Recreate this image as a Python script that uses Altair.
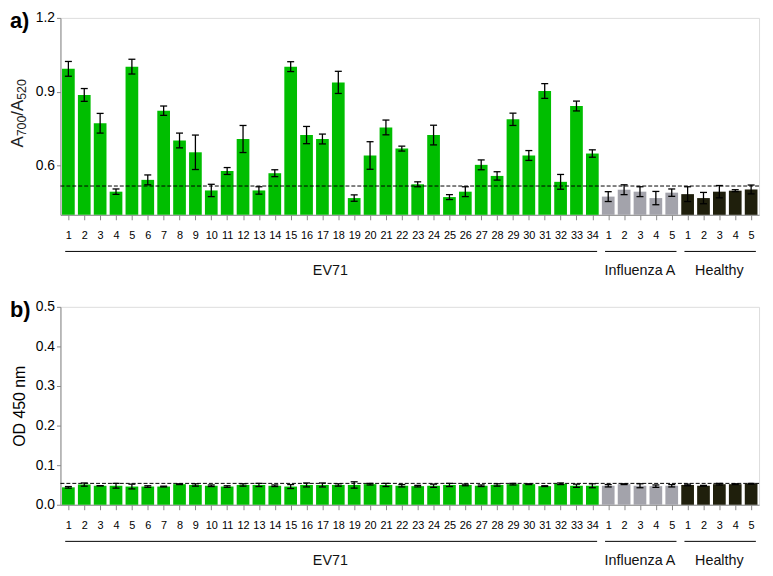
import json
import altair as alt
import pandas as pd

# ---------------- data ----------------
ev71_labels = [str(i) for i in range(1, 35)]
flu_labels = ["1", "2", "3", "4", "5"]
healthy_labels = ["1", "2", "3", "4", "5"]

# panel a: A700/A520
ev71_a = [0.993, 0.887, 0.772, 0.494, 1.002, 0.542, 0.823, 0.702, 0.654, 0.499,
          0.578, 0.708, 0.499, 0.569, 1.002, 0.724, 0.708, 0.938, 0.468, 0.641,
          0.755, 0.669, 0.524, 0.724, 0.472, 0.494, 0.603, 0.558, 0.788, 0.641,
          0.903, 0.534, 0.842, 0.649]
ev71_a_err = [0.030, 0.026, 0.040, 0.011, 0.030, 0.020, 0.019, 0.030, 0.070, 0.025,
              0.014, 0.055, 0.015, 0.014, 0.020, 0.035, 0.020, 0.045, 0.013, 0.056,
              0.030, 0.010, 0.010, 0.040, 0.010, 0.020, 0.020, 0.017, 0.025, 0.020,
              0.030, 0.030, 0.020, 0.015]
flu_a = [0.474, 0.502, 0.494, 0.468, 0.490]
flu_a_err = [0.020, 0.020, 0.020, 0.027, 0.015]
healthy_a = [0.484, 0.468, 0.494, 0.498, 0.503]
healthy_a_err = [0.030, 0.023, 0.025, 0.004, 0.018]
cutoff_a = 0.517

# panel b: OD 450 nm
ev71_b = [0.044, 0.051, 0.048, 0.048, 0.046, 0.046, 0.046, 0.052, 0.050, 0.048,
          0.046, 0.050, 0.050, 0.048, 0.046, 0.050, 0.050, 0.050, 0.050, 0.052,
          0.050, 0.048, 0.047, 0.048, 0.050, 0.050, 0.048, 0.050, 0.052, 0.052,
          0.047, 0.053, 0.048, 0.048]
ev71_b_err = [0.002, 0.004, 0.000, 0.006, 0.006, 0.002, 0.001, 0.001, 0.003, 0.002,
              0.002, 0.003, 0.004, 0.002, 0.005, 0.005, 0.005, 0.003, 0.008, 0.002,
              0.004, 0.003, 0.002, 0.004, 0.004, 0.002, 0.002, 0.003, 0.002, 0.001,
              0.001, 0.002, 0.004, 0.005]
flu_b = [0.048, 0.052, 0.048, 0.047, 0.048]
flu_b_err = [0.003, 0.001, 0.005, 0.003, 0.003]
healthy_b = [0.050, 0.048, 0.052, 0.052, 0.053]
healthy_b_err = [0.002, 0.001, 0.002, 0.001, 0.001]
cutoff_b = 0.054

group_names = ["EV71", "Influenza A", "Healthy"]
group_colors = ["#00BE00", "#A3A3AB", "#1F1F0C"]

# y-title of panel a: A700/A520 (main text + subscripts)
title_a_parts = ["A", "700", "/A", "520"]
title_a_is_sub = [False, True, False, True]

FONT = "Liberation Sans"
W, H_A, H_B = 706, 199, 200
TITLE_FS, SUB_FS = 17, 12.5

labels = ev71_labels + flu_labels + healthy_labels
groups = ["EV71"] * len(ev71_labels) + ["Influenza A"] * len(flu_labels) + ["Healthy"] * len(healthy_labels)
n = len(labels)


def make_df(vals, errs):
    df = pd.DataFrame({"idx": range(n), "group": groups, "label": labels,
                       "value": vals, "err": errs})
    df["x0"] = df.idx - 0.4
    df["x1"] = df.idx + 0.4
    df["lo"] = df.value - df.err
    df["hi"] = df.value + df.err
    df["c0"] = df.idx - 0.22
    df["c1"] = df.idx + 0.22
    return df


gdf = pd.DataFrame({"idx": range(n), "group": groups}).groupby("group", sort=False)["idx"].agg(["min", "max"]).reset_index()
gdf["start"] = gdf["min"] - 0.2
gdf["end"] = gdf["max"] + 0.3
gdf["mid"] = (gdf["min"] + gdf["max"]) / 2

label_expr = json.dumps(labels) + "[datum.value]"

xscale = alt.Scale(domain=[-0.5, n - 0.5], nice=False, zero=False)
xaxis = alt.Axis(values=list(range(n)), labelExpr=label_expr, grid=False, tickSize=5,
                 labelPadding=10, labelFontSize=11, labelAngle=0, title=None,
                 labelFlush=False, labelOverlap=False)
color = alt.Color("group:N", scale=alt.Scale(domain=group_names, range=group_colors), legend=None)

# Arial/Liberation Sans advance widths (em) for the title glyphs
GLYPH_W = {"A": 0.667, "/": 0.278, "0": 0.556, "1": 0.556, "2": 0.556, "5": 0.556, "7": 0.556}


def rotated_title(parts, subs, h):
    widths = [sum(GLYPH_W[c] for c in p) * (SUB_FS if s else TITLE_FS) for p, s in zip(parts, subs)]
    total = sum(widths)
    start = h / 2 - 3 + total / 2  # text runs bottom -> top
    layers = []
    pos = start
    for p, s, w in zip(parts, subs, widths):
        layers.append(
            alt.Chart(pd.DataFrame({"t": [p]})).mark_text(
                angle=270, align="left", baseline="alphabetic", font=FONT,
                fontSize=SUB_FS if s else TITLE_FS, color="#222"
            ).encode(text="t:N", x=alt.value(-38 + (3 if s else 0)), y=alt.value(pos))
        )
        pos -= w
    return layers


def panel(vals, errs, cutoff, ydomain, yticks, ytitle, tag, h, custom_title=None):
    df = make_df(vals, errs)
    yscale = alt.Scale(domain=ydomain, nice=False, zero=False)
    yaxis = alt.Axis(values=yticks, grid=False, tickSize=4, labelPadding=2, labelFontSize=14,
                     title=ytitle, titleFontSize=16, titleFontWeight="normal", titlePadding=8,
                     format=".1f")

    def X(f):
        return alt.X(f, scale=xscale, axis=xaxis)

    def Y(f):
        return alt.Y(f, scale=yscale, axis=yaxis)

    base = alt.Chart(df)
    bars = base.mark_rect().encode(
        x=X("x0:Q"), x2="x1:Q",
        y=Y("value:Q"), y2=alt.datum(ydomain[0]),
        color=color,
    )
    err = base.mark_rule(color="black", strokeWidth=1.3).encode(
        x=X("idx:Q"), y=Y("lo:Q"), y2="hi:Q")
    cap_hi = base.mark_rule(color="black", strokeWidth=1.3).encode(
        x=X("c0:Q"), x2="c1:Q", y=Y("hi:Q"))
    cap_lo = base.mark_rule(color="black", strokeWidth=1.3).encode(
        x=X("c0:Q"), x2="c1:Q", y=Y("lo:Q"))
    cut = alt.Chart(pd.DataFrame({"c": [cutoff]})).mark_rule(
        color="black", strokeDash=[4, 2], strokeWidth=1).encode(y=Y("c:Q"))
    glines = alt.Chart(gdf).mark_rule(color="black", strokeWidth=1).encode(
        x=X("start:Q"), x2="end:Q", y=alt.value(h + 37))
    gtext = alt.Chart(gdf).mark_text(fontSize=14.5, font=FONT, baseline="middle", color="#111").encode(
        x=X("mid:Q"), text="group:N", y=alt.value(h + 57))
    tagtxt = alt.Chart(pd.DataFrame({"t": [tag]})).mark_text(
        fontSize=22, fontWeight="bold", font=FONT, align="left", baseline="top", color="black").encode(
        x=alt.value(-51), y=alt.value(-7), text="t:N")
    layers = [bars, err, cap_hi, cap_lo, cut, glines, gtext, tagtxt]
    if custom_title is not None:
        layers += rotated_title(custom_title[0], custom_title[1], h)
    return alt.layer(*layers).properties(width=W, height=h)


pa = panel(ev71_a + flu_a + healthy_a, ev71_a_err + flu_a_err + healthy_a_err, cutoff_a,
           [0.4, 1.2], [0.6, 0.9, 1.2], None, "a)", H_A,
           custom_title=(title_a_parts, title_a_is_sub))
pb = panel(ev71_b + flu_b + healthy_b, ev71_b_err + flu_b_err + healthy_b_err, cutoff_b,
           [0.0, 0.5], [0.0, 0.1, 0.2, 0.3, 0.4, 0.5], "OD 450 nm", "b)", H_B)

chart = alt.vconcat(pa, pb, spacing=20).properties(
    padding={"left": 0, "top": -2, "right": 5, "bottom": 5}
).configure_view(stroke="black", strokeWidth=1).configure_axis(
    domainColor="black", tickColor="black", labelColor="#222", titleColor="#222",
    labelFont=FONT, titleFont=FONT
).configure(background="white")

chart.save("out.html", embed_options={"renderer": "svg", "actions": False})
